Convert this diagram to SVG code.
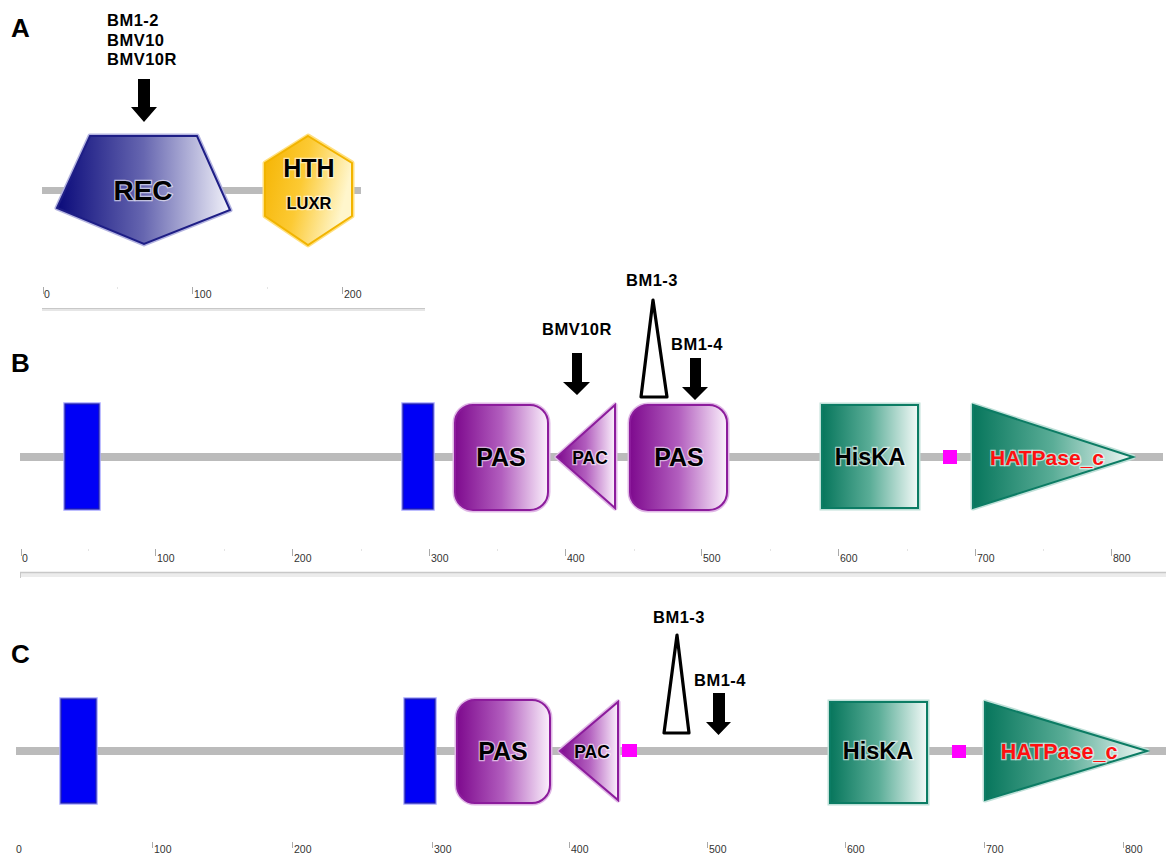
<svg xmlns="http://www.w3.org/2000/svg" width="1166" height="856" viewBox="0 0 1166 856">
<style>
text{font-family:"Liberation Sans",Arial,sans-serif}
.pl{font-size:26px;font-weight:bold;fill:#000}
.lbl{font-size:16.5px;font-weight:bold;fill:#000;text-anchor:middle;letter-spacing:0.5px}
.lbll{font-size:16.5px;font-weight:bold;fill:#000;letter-spacing:0.5px}
.dom{font-weight:bold;fill:#000;text-anchor:middle;stroke:#fff;stroke-width:2.5;stroke-opacity:.6;paint-order:stroke}
.red{fill:#ff1010}
.bb{fill:#bbb}
.rt{font-size:10.5px;fill:#333}
.tk{stroke:#aaa;stroke-width:1}
.mt{stroke:#e4e4e4;stroke-width:1}
.arr{fill:#000}
.wedge{fill:#fff;stroke:#000;stroke-width:3.2;stroke-linejoin:round}
.tm{fill:#0000f6;stroke:#2020b0;stroke-width:1.2}
.tmh{fill:none;stroke:#a8a8ff;stroke-width:3.5}
.mag{fill:#ff00ff}
.pash{fill:none;stroke:#e0b8e6;stroke-width:5}
.pas{fill:url(#gPas);stroke:#8c1c9c;stroke-width:2}
.tealh{fill:none;stroke:#bfe0d8;stroke-width:5}
.teal{fill:url(#gTeal);stroke:#0c7c64;stroke-width:2}
</style>
<defs>
<linearGradient id="gPas" x1="0" y1="0" x2="1" y2="0">
<stop offset="0" stop-color="#7e0a8e"/><stop offset="0.5" stop-color="#b25ebe"/><stop offset="1" stop-color="#fbf0fc"/>
</linearGradient>
<linearGradient id="gTeal" x1="0" y1="0" x2="1" y2="0">
<stop offset="0" stop-color="#07765c"/><stop offset="0.5" stop-color="#5aad97"/><stop offset="1" stop-color="#f2f9f7"/>
</linearGradient>
<linearGradient id="gRec" x1="0" y1="0" x2="1" y2="0">
<stop offset="0" stop-color="#0a0a7a"/><stop offset="0.5" stop-color="#6666b0"/><stop offset="1" stop-color="#f2f2fa"/>
</linearGradient>
<linearGradient id="gHth" x1="0" y1="0" x2="1" y2="0.3">
<stop offset="0" stop-color="#f5b300"/><stop offset="0.5" stop-color="#fcca34"/><stop offset="1" stop-color="#fff6cc"/>
</linearGradient>
</defs>

<!-- Panel A -->
<g id="panelA">
<text class="pl" x="11" y="37">A</text>
<rect class="bb" x="42" y="187" width="319" height="7"/>
<g id="A-arrow">
<text class="lbll" x="107" y="26">BM1-2</text>
<text class="lbll" x="107" y="45.5">BMV10</text>
<text class="lbll" x="107" y="65">BMV10R</text>
<polygon class="arr" points="138,79 150,79 150,107 157,107 144,122 131,107 138,107"/>
</g>
<g id="A-REC">
<polygon points="90,136 197,136 230,210 144,244 57,208" fill="none" stroke="#b4b4e0" stroke-width="5" stroke-linejoin="round"/>
<polygon points="90,136 197,136 230,210 144,244 57,208" fill="url(#gRec)" stroke="#1e1e86" stroke-width="2"/>
<text class="dom" x="143" y="200" font-size="28">REC</text>
</g>
<g id="A-HTH">
<polygon points="308,136 352,163 352,216 308,245 265,216 265,163" fill="none" stroke="#ffe080" stroke-width="5" stroke-linejoin="round"/>
<polygon points="308,136 352,163 352,216 308,245 265,216 265,163" fill="url(#gHth)" stroke="#f2b400" stroke-width="2"/>
<text class="dom" x="309" y="177" font-size="25">HTH</text>
<text class="dom" x="309" y="209" font-size="16.5">LUXR</text>
</g>
<g id="A-ruler">
<line class="tk" x1="43.5" y1="287" x2="43.5" y2="294"/>
<line class="tk" x1="192.5" y1="287" x2="192.5" y2="294"/>
<line class="tk" x1="342.5" y1="287" x2="342.5" y2="294"/>
<line class="mt" x1="117.5" y1="287" x2="117.5" y2="289"/>
<line class="mt" x1="267.5" y1="287" x2="267.5" y2="289"/>
<text class="rt" x="44" y="298">0</text>
<text class="rt" x="194" y="298">100</text>
<text class="rt" x="344" y="298">200</text>
<rect x="42" y="308" width="383" height="3" fill="#e6e6e6"/>
<line x1="42" y1="308.5" x2="425" y2="308.5" stroke="#c8c8c8" stroke-width="1"/>
</g>
</g>

<!-- Panel B -->
<g id="panelB">
<text class="pl" x="11" y="372">B</text>
<rect class="bb" x="20" y="453" width="1143" height="8"/>
<g id="B-tm1"><rect class="tmh" x="65" y="404" width="34" height="105"/><rect class="tm" x="65" y="404" width="34" height="105"/></g>
<g id="B-tm2"><rect class="tmh" x="403" y="404" width="30" height="105"/><rect class="tm" x="403" y="404" width="30" height="105"/></g>
<g id="B-PAS1">
<rect class="pash" x="455" y="405" width="93" height="105" rx="18"/>
<rect class="pas" x="455" y="405" width="93" height="105" rx="18"/>
<text class="dom" x="501" y="466" font-size="25">PAS</text>
</g>
<g id="B-PAC">
<polygon class="pash" points="615,405 615,508 557,457" stroke-linejoin="round"/>
<polygon class="pas" points="615,405 615,508 557,457"/>
<text class="dom" x="590" y="464" font-size="17.5">PAC</text>
</g>
<g id="B-PAS2">
<rect class="pash" x="630" y="405" width="97" height="105" rx="18"/>
<rect class="pas" x="630" y="405" width="97" height="105" rx="18"/>
<text class="dom" x="679" y="466" font-size="25">PAS</text>
</g>
<g id="B-HisKA">
<rect class="tealh" x="822" y="405" width="96" height="103"/>
<rect class="teal" x="822" y="405" width="96" height="103"/>
<text class="dom" x="870" y="465" font-size="23.5">HisKA</text>
</g>
<rect id="B-mag" class="mag" x="943" y="450" width="14" height="14"/>
<g id="B-HATPase">
<polygon class="tealh" points="973,405 973,508 1133,457" stroke-linejoin="round"/>
<polygon class="teal" points="973,405 973,508 1133,457"/>
<text class="dom red" x="1047" y="465" font-size="21">HATPase_c</text>
</g>
<g id="B-mut">
<text class="lbl" x="577" y="335">BMV10R</text>
<polygon class="arr" points="572,353 582,353 582,382 590,382 577,395 563,382 572,382"/>
<text class="lbl" x="652" y="286">BM1-3</text>
<polygon class="wedge" points="653,300 641,397 667,397"/>
<text class="lbl" x="697" y="350">BM1-4</text>
<polygon class="arr" points="690,358 701,358 701,387 708,387 695,400 682,387 690,387"/>
</g>
<g id="B-ruler">
<line class="tk" x1="21.5" y1="549" x2="21.5" y2="556"/>
<line class="tk" x1="155.5" y1="549" x2="155.5" y2="556"/>
<line class="tk" x1="292.5" y1="549" x2="292.5" y2="556"/>
<line class="tk" x1="429.5" y1="549" x2="429.5" y2="556"/>
<line class="tk" x1="565.5" y1="549" x2="565.5" y2="556"/>
<line class="tk" x1="701.5" y1="549" x2="701.5" y2="556"/>
<line class="tk" x1="838.5" y1="549" x2="838.5" y2="556"/>
<line class="tk" x1="975.5" y1="549" x2="975.5" y2="556"/>
<line class="tk" x1="1111.5" y1="549" x2="1111.5" y2="556"/>
<g class="mt">
<line x1="88.5" y1="549" x2="88.5" y2="551"/><line x1="224.5" y1="549" x2="224.5" y2="551"/><line x1="361.5" y1="549" x2="361.5" y2="551"/><line x1="497.5" y1="549" x2="497.5" y2="551"/><line x1="634.5" y1="549" x2="634.5" y2="551"/><line x1="770.5" y1="549" x2="770.5" y2="551"/><line x1="907.5" y1="549" x2="907.5" y2="551"/><line x1="1043.5" y1="549" x2="1043.5" y2="551"/>
</g>
<text class="rt" x="22" y="562">0</text>
<text class="rt" x="157" y="562">100</text>
<text class="rt" x="294" y="562">200</text>
<text class="rt" x="431" y="562">300</text>
<text class="rt" x="567" y="562">400</text>
<text class="rt" x="703" y="562">500</text>
<text class="rt" x="840" y="562">600</text>
<text class="rt" x="977" y="562">700</text>
<text class="rt" x="1113" y="562">800</text>
<rect x="20" y="572" width="1146" height="5" fill="#ececec"/>
<line x1="20" y1="572.5" x2="1166" y2="572.5" stroke="#c8c8c8" stroke-width="1.5"/>
<line x1="20.5" y1="572" x2="20.5" y2="578" stroke="#c8c8c8" stroke-width="1"/>
</g>
</g>

<!-- Panel C -->
<g id="panelC">
<text class="pl" x="11" y="663">C</text>
<rect class="bb" x="16" y="747" width="1150" height="8"/>
<g id="C-tm1"><rect class="tmh" x="61" y="699" width="35" height="104"/><rect class="tm" x="61" y="699" width="35" height="104"/></g>
<g id="C-tm2"><rect class="tmh" x="405" y="699" width="30" height="104"/><rect class="tm" x="405" y="699" width="30" height="104"/></g>
<g id="C-PAS">
<rect class="pash" x="457" y="700" width="93" height="103" rx="18"/>
<rect class="pas" x="457" y="700" width="93" height="103" rx="18"/>
<text class="dom" x="503" y="760" font-size="25">PAS</text>
</g>
<g id="C-PAC">
<polygon class="pash" points="618,702 618,800 560,751" stroke-linejoin="round"/>
<polygon class="pas" points="618,702 618,800 560,751"/>
<text class="dom" x="592" y="758" font-size="17.5">PAC</text>
</g>
<rect id="C-mag1" class="mag" x="622" y="744" width="15" height="13"/>
<g id="C-HisKA">
<rect class="tealh" x="830" y="702" width="97" height="101"/>
<rect class="teal" x="830" y="702" width="97" height="101"/>
<text class="dom" x="878" y="759" font-size="23.5">HisKA</text>
</g>
<rect id="C-mag2" class="mag" x="952" y="745" width="14" height="13"/>
<g id="C-HATPase">
<polygon class="tealh" points="985,702 985,800 1147,751" stroke-linejoin="round"/>
<polygon class="teal" points="985,702 985,800 1147,751"/>
<text class="dom red" x="1059" y="759" font-size="21.5">HATPase_c</text>
</g>
<g id="C-mut">
<text class="lbl" x="679" y="623">BM1-3</text>
<polygon class="wedge" points="677,635 664,733 689,733"/>
<text class="lbl" x="720" y="686">BM1-4</text>
<polygon class="arr" points="713,693 725,693 725,722 731,722 718.5,735 706,722 713,722"/>
</g>
<g id="C-ruler">
<line class="tk" x1="152.5" y1="842" x2="152.5" y2="848"/>
<line class="tk" x1="292.5" y1="842" x2="292.5" y2="848"/>
<line class="tk" x1="432.5" y1="842" x2="432.5" y2="848"/>
<line class="tk" x1="569.5" y1="842" x2="569.5" y2="848"/>
<line class="tk" x1="707.5" y1="842" x2="707.5" y2="848"/>
<line class="tk" x1="845.5" y1="842" x2="845.5" y2="848"/>
<line class="tk" x1="984.5" y1="842" x2="984.5" y2="848"/>
<line class="tk" x1="1123.5" y1="842" x2="1123.5" y2="848"/>
<text class="rt" x="16" y="853">0</text>
<text class="rt" x="154" y="853">100</text>
<text class="rt" x="294" y="853">200</text>
<text class="rt" x="434" y="853">300</text>
<text class="rt" x="571" y="853">400</text>
<text class="rt" x="709" y="853">500</text>
<text class="rt" x="847" y="853">600</text>
<text class="rt" x="986" y="853">700</text>
<text class="rt" x="1125" y="853">800</text>
</g>
</g>
</svg>
